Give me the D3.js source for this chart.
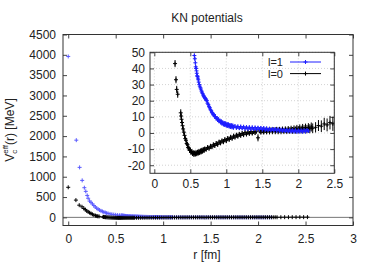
<!DOCTYPE html>
<html><head><meta charset="utf-8">
<script src="https://cdn.jsdelivr.net/npm/d3@7"></script>
<style>
body{margin:0;background:#fff;}
svg text{font-family:"Liberation Sans",Arial,sans-serif;font-size:12px;fill:#222;}
</style></head>
<body><svg id="c" width="374" height="262"></svg>
<script>
// ---- data ----
const mainXTicks = [0, 0.5, 1, 1.5, 2, 2.5, 3];
const mainYTicks = [0, 500, 1000, 1500, 2000, 2500, 3000, 3500, 4000, 4500];
const insetXTicks = [0, 0.5, 1, 1.5, 2, 2.5];
const insetYTicks = [-20, -10, 0, 10, 20, 30, 40, 50];
const seriesNames = ["l=1", "l=0"];

// l=1 (blue)
const l1R = [0,0.085,0.12,0.147,0.17,0.185,0.2,0.21,0.225,0.24,0.255,0.27,0.285,0.3,0.315,0.33,0.345,0.36,0.375,0.39,0.405,0.42,0.44,0.46,0.48,0.5,0.52,0.54,
 0.556,0.563,0.57,0.575,0.58,0.586,0.59,0.596,0.6,0.606,0.61,0.617,0.625,0.632,0.64,0.647,0.655,0.662,0.67,0.677,0.685,0.692,0.7,0.707,0.715,0.722,0.73,
 0.74,0.75,0.76,0.77,0.78,0.79,0.8,0.81,0.82,0.83,0.84,0.85,0.86,0.87,0.88,0.89,0.9,0.91,0.92,0.93,0.94,0.95,0.96,0.97,0.98,0.99,1.0,1.01,1.02,1.03,1.04,1.05,1.06,1.07,1.08,1.09,1.1,
 1.12,1.14,1.16,1.18,1.2,1.22,1.24,1.26,1.28,1.3,1.32,1.34,1.36,1.38,1.4,1.42,1.44,1.46,1.48,1.5,1.52,1.54,1.56,1.58,1.6,1.62,1.64,1.66,1.68,1.7,1.72,1.74,1.76,1.78,1.8,1.82,1.84,1.86,1.88,1.9,1.92,1.94,1.96,1.98,2.0,2.02,2.04,2.06,2.08,2.1,2.12,2.14];
const l1V = [3960,1900,1230,910,730,640,540,470,400,370,330,290,255,225,200,180,160,145,130,118,105,95,85,76,68,62,56,51,
 48,46,43.5,41,40,38.5,37,35.5,35,34,33,31.5,30,29,28,27.2,26,25.3,24.5,23.6,23,22.4,22,21.3,21,20.3,20,
 18.4,17.6,16.3,15.7,14.4,13.8,12.6,12.3,11.2,11.1,10.1,10.2,9.1,9.2,8.1,8.4,7.3,7.6,6.6,7.1,5.9,6.5,5.4,6.1,5.0,5.8,4.7,5.5,4.4,5.2,4.1,4.9,3.8,4.7,3.6,4.5,3.4,
 4.2,3.2,4.0,3.0,3.9,2.9,3.8,2.7,3.6,2.6,3.5,2.5,3.4,2.4,3.3,2.3,3.2,2.2,3.1,2.1,3.0,2.0,2.8,1.9,2.6,1.8,2.5,1.7,2.4,1.5,2.2,1.4,2.0,1.3,1.9,1.2,1.8,1.1,1.7,1.0,1.6,0.9,1.6,0.8,1.5,0.9,1.5,0.8,1.6,0.9,1.7,1.2];
const l1E = [0,0,0,0,0,0,0,0,0,0,0,0,0,0,0,0,0,0,0,0,0,0,0,0,0,0,0,0,
 1.2,1.2,1.2,1.2,1.2,1.2,1.2,1.2,1.2,1.2,1.2,1.2,1.2,1.2,1.2,1.2,1.2,1.2,1.2,1.2,1.2,1.2,1.2,1.2,1.2,1.2,1.2,
 1.3,1.3,1.3,1.3,1.3,1.3,1.3,1.3,1.3,1.3,1.3,1.3,1.3,1.3,1.3,1.3,1.3,1.3,1.3,1.3,1.3,1.3,1.3,1.3,1.3,1.3,1.3,1.3,1.3,1.3,1.3,1.3,1.3,1.3,1.3,1.3,1.3,
 1.2,1.2,1.2,1.2,1.2,1.2,1.2,1.2,1.2,1.2,1.2,1.2,1.2,1.2,1.2,1.2,1.2,1.2,1.2,1.2,1.2,1.2,1.2,1.2,1.2,1.2,1.2,1.2,1.2,1.2,1.2,1.2,1.2,1.2,1.2,1.2,1.2,1.2,1.2,1.2,1.2,1.2,1.2,1.2,1.2,1.2,1.2,1.2,1.2,1.2,1.2,1.2];

// l=0 (black)
const l0R = [0,0.081,0.116,0.145,0.165,0.18,0.195,0.21,0.225,0.24,0.255,0.27,
 0.288,0.301,0.311,0.325,0.367,0.372,0.378,0.385,0.392,0.4,0.41,0.42,0.43,0.44,0.45,0.46,0.47,0.48,0.49,0.5,0.51,0.52,0.53,0.54,0.55,0.56,0.57,0.58,0.59,0.6,0.61,0.62,0.63,0.64,0.65,0.66,0.67,0.68,0.69,0.7,
 0.72,0.74,0.76,0.78,0.8,0.82,0.84,0.86,0.88,0.9,0.92,0.94,0.96,0.98,1.0,1.02,1.04,1.06,1.08,1.1,1.12,1.14,1.16,1.18,1.2,1.22,1.24,1.26,1.28,1.3,1.32,1.34,1.36,1.38,1.4,1.42,1.44,1.46,1.48,1.5,
 1.52,1.54,1.56,1.58,1.6,1.62,1.64,1.66,1.68,1.7,1.72,1.74,1.76,1.78,1.8,1.82,1.84,1.86,1.88,1.9,1.92,1.94,1.96,1.98,2.0,2.02,2.04,2.06,2.08,2.1,2.12,2.14,2.16,2.18,2.2,2.24,2.28,2.32,2.36,2.4,2.44,2.48,2.52];
const l0V = [740,425,300,260,220,190,160,135,115,95,75,58,
 43,33,27,24,12.5,10.5,8.5,6.5,4.5,2.5,0.5,-1.5,-3.5,-4.5,-6.5,-7.2,-9,-9.4,-10.8,-10.6,-12,-11.6,-12.8,-12.2,-13.3,-12.4,-13.1,-12.2,-12.9,-11.9,-12.5,-11.5,-12.2,-11.1,-11.8,-10.7,-11.3,-10.3,-10.9,-9.9,
 -10.1,-9.0,-9.5,-8.2,-8.6,-7.3,-7.8,-6.5,-7.1,-5.6,-6.2,-4.9,-5.5,-4.1,-4.8,-3.4,-4.0,-2.6,-3.3,-1.9,-2.6,-1.3,-2.0,-0.8,-1.5,-0.3,-1.1,0.2,-0.7,0.4,-0.3,0.7,-0.1,0.9,0.2,1.1,-3.0,1.3,0.5,1.4,
 0.6,1.6,0.7,1.7,0.8,1.8,0.9,1.9,1.0,2.0,1.0,2.0,1.1,2.1,1.2,2.2,1.3,2.3,1.5,2.5,1.6,2.6,1.8,2.8,2.0,3.0,2.1,3.2,2.3,3.3,2.4,3.5,2.6,3.7,2.9,3.5,4.6,4.2,5.6,5.0,6.4,5.7,6.2];
const l0E = [0,0,0,0,0,0,0,0,0,0,0,0,
 2.2,2.2,2.2,2.2,2.2,2,2,2,2,1.8,1.8,1.8,1.6,1.6,1.6,1.6,1.5,1.5,1.5,1.5,1.5,1.5,1.5,1.5,1.5,1.5,1.5,1.5,1.5,1.5,1.5,1.5,1.5,1.5,1.5,1.5,1.5,1.5,1.5,1.5,
 1.5,1.5,1.5,1.5,1.5,1.5,1.5,1.5,1.5,1.5,1.5,1.5,1.5,1.5,1.5,1.5,1.5,1.5,1.5,1.5,1.5,1.5,1.5,1.5,1.5,1.5,1.5,1.5,1.5,1.5,1.5,1.5,1.5,1.5,1.5,1.5,2.2,1.5,1.5,1.5,
 1.6,1.6,1.6,1.6,1.7,1.7,1.7,1.7,1.8,1.8,1.8,1.8,1.9,1.9,1.9,1.9,2,2,2,2,2.1,2.1,2.2,2.2,2.3,2.3,2.4,2.4,2.5,2.5,2.6,2.6,2.8,2.8,3,3.2,3.4,3.6,3.8,4,4.2,4.4,4.5];

const colors = ["#1f1fff", "#000000"];

// ---- build ----
const svg = d3.select("#c");
function zip(R, V, E){ return R.map((r,i)=>({r:r, v:V[i], e:E[i]})); }
const s1 = zip(l1R, l1V, l1E), s0 = zip(l0R, l0V, l0E);

// main plot
const M = {l:63, r:353, t:34.5, b:225.5};
const xM = d3.scaleLinear().domain([-0.055, 3]).range([M.l, M.r]);
const yM = d3.scaleLinear().domain([-200, 4500]).range([M.b, M.t]);

svg.append("text").attr("x", 207).attr("y", 22).attr("text-anchor","middle").text("KN potentials");

const defs = svg.append("defs");
defs.append("clipPath").attr("id","clipM").append("rect").attr("x",M.l).attr("y",M.t).attr("width",M.r-M.l).attr("height",M.b-M.t);

// zero line
svg.append("line").attr("x1",M.l).attr("x2",M.r).attr("y1",yM(0)).attr("y2",yM(0)).attr("stroke","#777").attr("stroke-width",1);

function axisStyle(g){ g.select(".domain").remove(); g.selectAll(".tick line").attr("stroke","#444"); g.selectAll(".tick text").attr("fill","#222").style("font-size","12px").style("font-family","Liberation Sans, Arial, sans-serif"); }
const fmt = d => String(d);
svg.append("g").attr("transform",`translate(${M.l},0)`).call(d3.axisLeft(yM).tickValues(mainYTicks).tickFormat(fmt).tickSizeInner(-4).tickSizeOuter(0).tickPadding(7)).call(axisStyle);
svg.append("g").attr("transform",`translate(${M.r},0)`).call(d3.axisRight(yM).tickValues(mainYTicks).tickFormat("").tickSizeInner(-4).tickSizeOuter(0)).call(axisStyle);
svg.append("g").attr("transform",`translate(0,${M.b})`).call(d3.axisBottom(xM).tickValues(mainXTicks).tickFormat(fmt).tickSizeInner(-4).tickSizeOuter(0).tickPadding(9)).call(axisStyle);
svg.append("g").attr("transform",`translate(0,${M.t})`).call(d3.axisTop(xM).tickValues(mainXTicks).tickFormat("").tickSizeInner(-4).tickSizeOuter(0)).call(axisStyle);
svg.append("rect").attr("x",M.l).attr("y",M.t).attr("width",M.r-M.l).attr("height",M.b-M.t).attr("fill","none").attr("stroke","#333").attr("stroke-width",1);

function plus(x,y,h){ return `M${x-h},${y}h${2*h}M${x},${y-h}v${2*h}`; }
const gM = svg.append("g").attr("clip-path","url(#clipM)");
[s1, s0].forEach((s,k)=>{
  gM.append("path").attr("d", s.map(d=>plus(xM(d.r), yM(d.v), 2)).join(""))
    .attr("stroke", k===0 ? "#5a5aff" : "#000").attr("stroke-width", 1).attr("fill","none");
});

// x label
svg.append("text").attr("x",207).attr("y",259).attr("text-anchor","middle").text("r [fm]");
// y label
const yl = svg.append("text").attr("transform","translate(14,130) rotate(-90)").attr("text-anchor","middle");
yl.append("tspan").text("V");
yl.append("tspan").attr("dy",3).style("font-size","8px").text("c");
yl.append("tspan").attr("dx",-4).attr("dy",-9).style("font-size","8px").text("eff");
yl.append("tspan").attr("dy",6).text("(r) [MeV]");

// inset
const I = {l:150, r:334.3, t:52.3, b:173.3};
const xI = d3.scaleLinear().domain([-0.06, 2.5]).range([I.l, I.r]);
const yI = d3.scaleLinear().domain([-25, 50]).range([I.b, I.t]);
svg.append("rect").attr("x",I.l).attr("y",I.t).attr("width",I.r-I.l).attr("height",I.b-I.t).attr("fill","#fff");
defs.append("clipPath").attr("id","clipI").append("rect").attr("x",I.l).attr("y",I.t).attr("width",I.r-I.l).attr("height",I.b-I.t);

// grid
const grid = svg.append("g").attr("stroke","#c8c8c8").attr("stroke-width",0.8).attr("stroke-dasharray","1,2");
insetXTicks.forEach(t=>grid.append("line").attr("x1",xI(t)).attr("x2",xI(t)).attr("y1",I.t).attr("y2",I.b));
insetYTicks.forEach(t=>grid.append("line").attr("x1",I.l).attr("x2",I.r).attr("y1",yI(t)).attr("y2",yI(t)));

svg.append("g").attr("transform",`translate(${I.l},0)`).call(d3.axisLeft(yI).tickValues(insetYTicks).tickFormat(fmt).tickSizeInner(-4).tickSizeOuter(0).tickPadding(5)).call(axisStyle);
svg.append("g").attr("transform",`translate(${I.r},0)`).call(d3.axisRight(yI).tickValues(insetYTicks).tickFormat("").tickSizeInner(-4).tickSizeOuter(0)).call(axisStyle);
svg.append("g").attr("transform",`translate(0,${I.b})`).call(d3.axisBottom(xI).tickValues(insetXTicks).tickFormat(fmt).tickSizeInner(-4).tickSizeOuter(0).tickPadding(6.5)).call(axisStyle);
svg.append("g").attr("transform",`translate(0,${I.t})`).call(d3.axisTop(xI).tickValues(insetXTicks).tickFormat("").tickSizeInner(-4).tickSizeOuter(0)).call(axisStyle);

const gI = svg.append("g").attr("clip-path","url(#clipI)");
[s0, s1].forEach(s=>{
  const k = s===s1 ? 0 : 1;
  const pts = s.filter(d=>d.e>0);
  gI.append("path").attr("d", pts.map(d=>`M${xI(d.r)},${yI(d.v-d.e)}V${yI(d.v+d.e)}`).join(""))
    .attr("stroke", colors[k]).attr("stroke-width",1).attr("fill","none");
  gI.append("path").attr("d", pts.map(d=>plus(xI(d.r), yI(d.v), 2)).join(""))
    .attr("stroke", colors[k]).attr("stroke-width",1).attr("fill","none");
});
svg.append("rect").attr("x",I.l).attr("y",I.t).attr("width",I.r-I.l).attr("height",I.b-I.t).attr("fill","none").attr("stroke","#333").attr("stroke-width",1);

// legend
seriesNames.forEach((n,k)=>{
  const y = 62 + k*11.6;
  svg.append("text").attr("x",283).attr("y",y+4).attr("text-anchor","end").style("font-size","11px").text(n);
  svg.append("line").attr("x1",290).attr("x2",321).attr("y1",y).attr("y2",y).attr("stroke",colors[k]).attr("stroke-width",1);
  svg.append("path").attr("d",plus(305.5,y,2)).attr("stroke",colors[k]).attr("stroke-width",1);
});
</script></body></html>
